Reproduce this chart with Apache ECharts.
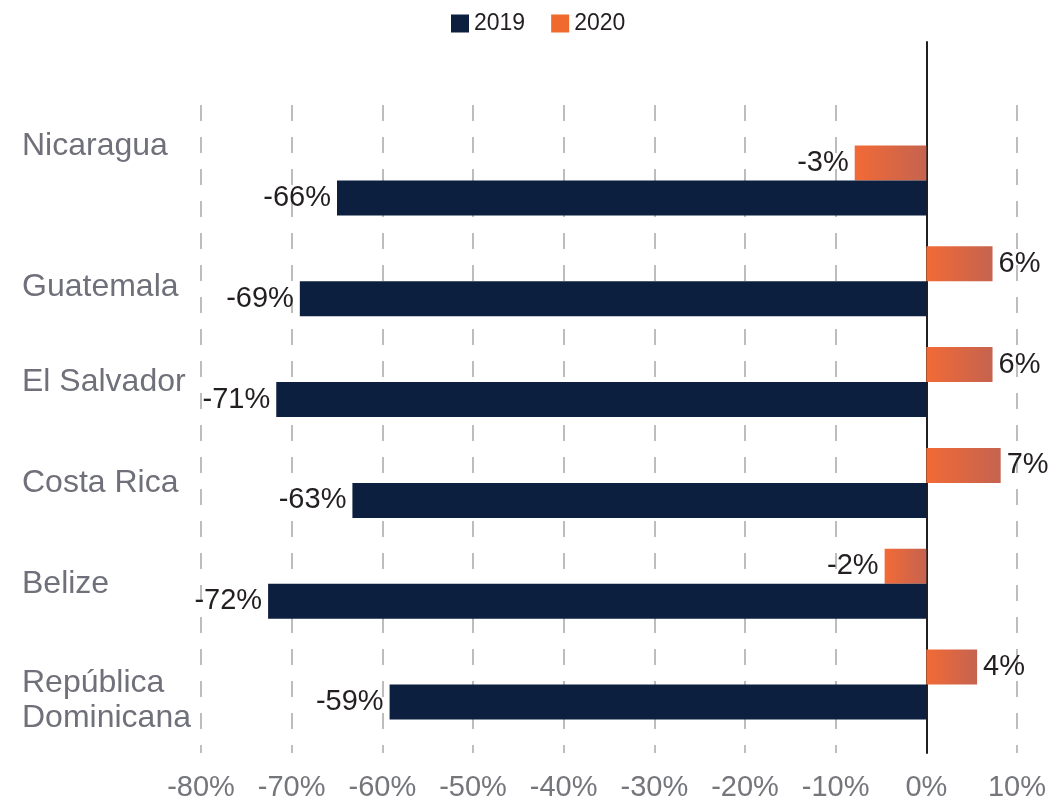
<!DOCTYPE html>
<html>
<head>
<meta charset="utf-8">
<script src="https://cdn.jsdelivr.net/npm/echarts@6/dist/echarts.min.js"></script>
<style>
  html, body { margin: 0; padding: 0; background: #fff; }
  #chart { width: 1051px; height: 799px; }
</style>
</head>
<body>
<div id="chart"></div>
<script>
// countries, top to bottom
const countries = ["Nicaragua", "Guatemala", "El Salvador", "Costa Rica", "Belize", "República\nDominicana"];

// bar lengths as drawn (%)
const values2019 = [-65.0, -69.1, -71.7, -63.3, -72.6, -59.2];
const values2020 = [-7.9, 7.3, 7.3, 8.2, -4.6, 5.6];

// label texts printed next to the bars
const labels2019 = ["-66%", "-69%", "-71%", "-63%", "-72%", "-59%"];
const labels2020 = ["-3%", "6%", "6%", "7%", "-2%", "4%"];

const navy = "#0c1f3f";
const orange = "#ef6a2c";
const font = "Liberation Sans";
const nameColor = "#6f7079";

const chart = echarts.init(document.getElementById("chart"));

const orangeFill = new echarts.graphic.LinearGradient(0, 0, 1, 0, [
  { offset: 0, color: "#f26a36" },
  { offset: 1, color: "#c5634f" }
]);

const nameStyle = (pad, lh) => ({
  fontSize: 32, lineHeight: lh || 37, color: nameColor, fontFamily: font, align: "left", padding: pad
});

// the names don't all sit on their band centre; nudge them with rich text
function nameFormatter(value, index) {
  const lines = value.split("\n");
  if (index === 0) return "{up|" + value + "}";
  if (index === 1) return "{down|" + value + "}";
  if (lines.length > 1) return "{sp| }\n" + lines.map(l => "{two|" + l + "}").join("\n");
  return "{n|" + value + "}";
}

const option = {
  animation: false,
  textStyle: { fontFamily: font },
  legend: {
    left: 446,
    top: 7,
    itemWidth: 18,
    itemHeight: 18,
    itemGap: 26,
    icon: "rect",
    textStyle: { fontSize: 23, color: "#231f20", fontFamily: font },
    data: [
      { name: "2019", itemStyle: { color: navy } },
      { name: "2020", itemStyle: { color: orange } }
    ]
  },
  grid: [
    // gridlines + tick labels
    { left: 201, right: 34, top: 105, bottom: 46, outerBoundsMode: "none" },
    // zero line
    { left: 201, right: 34, top: 42, bottom: 46, outerBoundsMode: "none" },
    // bars
    { left: 201, right: 34, top: 130, bottom: 64, outerBoundsMode: "none" }
  ],
  xAxis: [
    {
      gridIndex: 0,
      type: "value",
      min: -80,
      max: 10,
      interval: 10,
      axisLine: { show: false },
      axisTick: { show: false },
      axisLabel: {
        margin: 20,
        fontSize: 29,
        color: "#75767c",
        fontFamily: font,
        formatter: v => v + "%"
      },
      splitLine: {
        show: true,
        lineStyle: { color: "#a8a8a8", width: 1.5, type: [16, 16] }
      }
    },
    {
      gridIndex: 1, type: "value", min: -80, max: 10,
      axisLine: { show: false }, axisTick: { show: false },
      axisLabel: { show: false }, splitLine: { show: false }
    },
    {
      gridIndex: 2, type: "value", min: -80, max: 10,
      axisLine: { show: false }, axisTick: { show: false },
      axisLabel: { show: false }, splitLine: { show: false }
    }
  ],
  yAxis: [
    {
      gridIndex: 0, type: "category", data: countries, inverse: true,
      axisLine: { show: false }, axisTick: { show: false }, axisLabel: { show: false }
    },
    {
      gridIndex: 1, type: "category", data: countries, inverse: true,
      axisLine: { show: true, onZero: true, lineStyle: { color: "#231f20", width: 2 } },
      axisTick: { show: false }, axisLabel: { show: false }
    },
    {
      gridIndex: 2, type: "category", data: countries, inverse: true,
      axisLine: { show: false, onZero: false },
      axisTick: { show: false },
      axisLabel: {
        align: "left",
        margin: 179,
        fontSize: 32,
        lineHeight: 37,
        color: nameColor,
        fontFamily: font,
        formatter: nameFormatter,
        rich: {
          n: nameStyle([0, 0, 0, 0]),
          up: nameStyle([0, 0, 68, 0]),
          down: nameStyle([12, 0, 0, 0]),
          two: nameStyle([0, 0, 0, 0], 35),
          sp: { fontSize: 2, lineHeight: 32 }
        }
      }
    }
  ],
  series: [
    {
      name: "2020",
      type: "bar",
      xAxisIndex: 2,
      yAxisIndex: 2,
      barWidth: 35,
      barGap: "0%",
      itemStyle: { color: orangeFill },
      label: {
        show: true,
        fontSize: 29,
        color: "#231f20",
        fontFamily: font,
        distance: 6,
        formatter: p => labels2020[p.dataIndex]
      },
      data: values2020.map(v => ({
        value: v,
        label: { position: v < 0 ? "left" : "right" }
      }))
    },
    {
      name: "2019",
      type: "bar",
      xAxisIndex: 2,
      yAxisIndex: 2,
      barWidth: 35,
      barGap: "0%",
      itemStyle: { color: navy },
      label: {
        show: true,
        position: "left",
        fontSize: 29,
        color: "#231f20",
        fontFamily: font,
        distance: 6,
        formatter: p => labels2019[p.dataIndex]
      },
      data: values2019
    }
  ]
};

chart.setOption(option);
</script>
</body>
</html>
